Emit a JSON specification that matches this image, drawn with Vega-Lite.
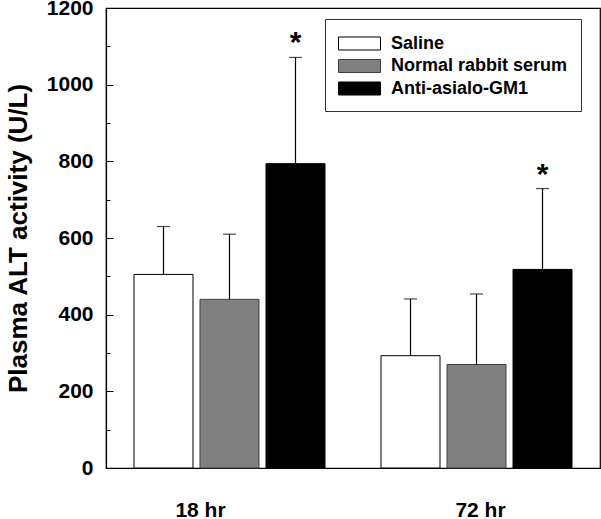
{
  "$schema": "https://vega.github.io/schema/vega-lite/v6.json",
  "width": 494,
  "height": 460,
  "autosize": "none",
  "padding": {"left": 106, "top": 8, "right": 1, "bottom": 51},
  "config": {
    "view": {"stroke": "black", "strokeWidth": 1.2},
    "font": "Liberation Sans",
    "axis": {"grid": false}
  },
  "data": {
    "values": [
      {"time": "18 hr", "treatment": "Saline", "mean": 505, "upper": 630, "sig": ""},
      {"time": "18 hr", "treatment": "Normal rabbit serum", "mean": 440, "upper": 610, "sig": ""},
      {"time": "18 hr", "treatment": "Anti-asialo-GM1", "mean": 794, "upper": 1071, "sig": "*"},
      {"time": "72 hr", "treatment": "Saline", "mean": 293, "upper": 441, "sig": ""},
      {"time": "72 hr", "treatment": "Normal rabbit serum", "mean": 270, "upper": 454, "sig": ""},
      {"time": "72 hr", "treatment": "Anti-asialo-GM1", "mean": 518, "upper": 729, "sig": "*"}
    ]
  },
  "layer": [
    {
      "mark": {"type": "bar", "strokeWidth": 1},
      "encoding": {
        "x": {
          "field": "time", "type": "nominal", "sort": ["18 hr", "72 hr"],
          "scale": {"paddingInner": 0.2267, "paddingOuter": 0.1133},
          "axis": {
            "title": null, "labelAngle": 0, "ticks": false, "tickSize": 0,
            "labelPadding": 31, "labelFontSize": 21, "labelFontWeight": "bold",
            "labelColor": "black", "domainColor": "black", "domainWidth": 1.2,
            "labelOffset": {"condition": {"test": "datum.value == '18 hr'", "value": -29}, "value": 4}
          }
        },
        "xOffset": {
          "field": "treatment", "type": "nominal",
          "sort": ["Saline", "Normal rabbit serum", "Anti-asialo-GM1"],
          "scale": {"paddingInner": 0.106, "paddingOuter": 0}
        },
        "y": {
          "field": "mean", "type": "quantitative",
          "scale": {"domain": [0, 1200], "nice": false},
          "axis": {
            "values": [0, 200, 400, 600, 800, 1000, 1200], "format": "d",
            "title": "Plasma ALT activity (U/L)", "titleFontSize": 26,
            "titleFontWeight": "bold", "titleColor": "black", "titlePadding": 15,
            "titleLimit": 1000,
            "labelFontSize": 21, "labelFontWeight": "bold", "labelColor": "black",
            "tickSize": -7, "tickColor": "black", "domainColor": "black",
            "domainWidth": 1.2, "labelPadding": 20
          }
        },
        "fill": {
          "field": "treatment", "type": "nominal",
          "sort": ["Saline", "Normal rabbit serum", "Anti-asialo-GM1"],
          "scale": {"domain": ["Saline", "Normal rabbit serum", "Anti-asialo-GM1"], "range": ["white", "#808080", "black"]},
          "legend": {
            "title": null, "orient": "none", "legendX": 219, "legendY": 11,
            "padding": 13, "strokeColor": "#333",
            "symbolType": "M-1,-0.591H2.818V0.591H-1Z", "symbolSize": 484,
            "symbolStrokeColor": "black", "symbolStrokeWidth": 1,
            "labelFontSize": 18, "labelFontWeight": "bold", "labelColor": "black",
            "labelOffset": 30, "rowPadding": 1.5, "labelLimit": 400
          }
        },
        "stroke": {
          "field": "treatment", "type": "nominal",
          "scale": {"domain": ["Saline", "Normal rabbit serum", "Anti-asialo-GM1"], "range": ["black", "#404040", "black"]},
          "legend": null
        }
      }
    },
    {
      "mark": {"type": "rule", "color": "black", "strokeWidth": 1.2},
      "encoding": {
        "x": {"field": "time", "type": "nominal", "sort": ["18 hr", "72 hr"]},
        "xOffset": {"field": "treatment", "type": "nominal", "sort": ["Saline", "Normal rabbit serum", "Anti-asialo-GM1"]},
        "y": {
          "field": "mean", "type": "quantitative",
          "axis": {
            "values": [100, 300, 500, 700, 900, 1100], "labels": false, "domain": false,
            "title": null, "tickSize": -4, "tickColor": "black", "orient": "left"
          }
        },
        "y2": {"field": "upper"}
      }
    },
    {
      "mark": {"type": "tick", "color": "black", "size": 13, "thickness": 1.2, "orient": "horizontal"},
      "encoding": {
        "x": {"field": "time", "type": "nominal", "sort": ["18 hr", "72 hr"]},
        "xOffset": {"field": "treatment", "type": "nominal", "sort": ["Saline", "Normal rabbit serum", "Anti-asialo-GM1"]},
        "y": {"field": "upper", "type": "quantitative", "axis": null}
      }
    },
    {
      "mark": {"type": "text", "fontSize": 30, "fontWeight": "bold", "baseline": "alphabetic", "dy": -5, "color": "black"},
      "encoding": {
        "x": {"field": "time", "type": "nominal", "sort": ["18 hr", "72 hr"]},
        "xOffset": {"field": "treatment", "type": "nominal", "sort": ["Saline", "Normal rabbit serum", "Anti-asialo-GM1"]},
        "y": {"field": "upper", "type": "quantitative", "axis": null},
        "text": {"field": "sig"}
      }
    }
  ],
  "resolve": {"axis": {"y": "independent"}}
}
